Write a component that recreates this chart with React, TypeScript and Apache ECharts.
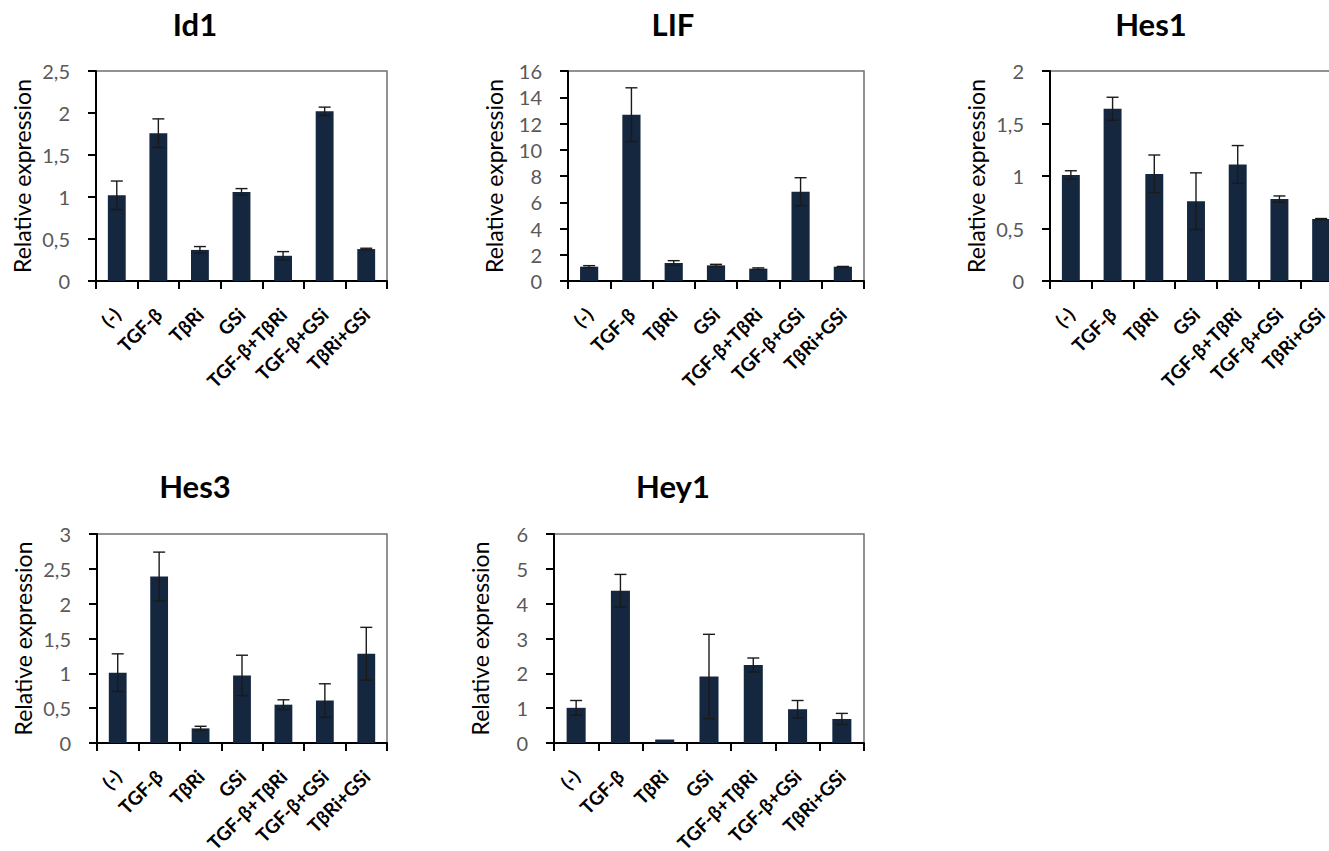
import React, { useEffect, useRef } from "react";
import * as echarts from "echarts";

const categories = ["(-)", "TGF-β", "TβRi", "GSi", "TGF-β+TβRi", "TGF-β+GSi", "TβRi+GSi"];

const panelTitles = ["Id1", "LIF", "Hes1", "Hes3", "Hey1"];

const id1Values = [1.02, 1.76, 0.37, 1.06, 0.30, 2.02, 0.38];
const id1Errors = [0.17, 0.17, 0.04, 0.04, 0.05, 0.05, 0.01];

const lifValues = [1.09, 12.67, 1.37, 1.19, 0.94, 6.8, 1.09];
const lifErrors = [0.08, 2.05, 0.18, 0.08, 0.06, 1.07, 0.02];

const hes1Values = [1.01, 1.64, 1.02, 0.76, 1.11, 0.78, 0.59];
const hes1Errors = [0.04, 0.11, 0.18, 0.27, 0.18, 0.03, 0.005];

const hes3Values = [1.01, 2.39, 0.21, 0.97, 0.55, 0.61, 1.28];
const hes3Errors = [0.27, 0.35, 0.03, 0.29, 0.07, 0.24, 0.38];

const hey1Values = [1.01, 4.37, 0.1, 1.91, 2.24, 0.97, 0.69];
const hey1Errors = [0.21, 0.47, 0, 1.21, 0.2, 0.25, 0.16];

const yMax = [2.5, 16, 2, 3, 6];
const yInterval = [0.5, 2, 0.5, 0.5, 1];

const FONT = "Lato, 'Open Sans', 'DejaVu Sans', sans-serif";
const BAR = "#15263f";

export default function App() {
  const ref = useRef<HTMLDivElement>(null);

  useEffect(() => {
    if (!ref.current) return;
    document.documentElement.style.overflow = "hidden";
    document.body.style.overflow = "hidden";
    const chart = echarts.init(ref.current, null, { renderer: "svg" });

    const values = [id1Values, lifValues, hes1Values, hes3Values, hey1Values];
    const errors = [id1Errors, lifErrors, hes1Errors, hes3Errors, hey1Errors];

    // layout of each panel: left, top, width, height (pixels)
    const grids = [
      { left: 96, top: 71, width: 291, height: 210 },
      { left: 568, top: 71, width: 296, height: 210 },
      { left: 1050, top: 71, width: 292, height: 210 },
      { left: 97, top: 534, width: 290, height: 209 },
      { left: 554, top: 534, width: 310, height: 209 },
    ];
    const titlePos = [
      { x: 195, y: 24 },
      { x: 673, y: 24 },
      { x: 1151, y: 24 },
      { x: 195, y: 486 },
      { x: 673, y: 486 },
    ];

    const option: any = {
      animation: false,
      backgroundColor: "#ffffff",
      textStyle: { fontFamily: FONT },
      graphic: panelTitles.map((t, i) => ({
        type: "text",
        x: titlePos[i].x,
        y: titlePos[i].y,
        style: {
          text: t,
          font: `bold 31px ${FONT}`,
          fill: "#000000",
          textAlign: "center",
          textVerticalAlign: "middle",
        },
      })),
      grid: grids.map((g) => ({
        ...g,
        show: true,
        borderColor: "#6f6f6f",
        borderWidth: 1.5,
        backgroundColor: "transparent",
        containLabel: false,
        outerBoundsMode: "none",
      })),
      xAxis: grids.map((_, i) => ({
        type: "category",
        gridIndex: i,
        data: categories,
        boundaryGap: true,
        axisLine: { show: true, lineStyle: { color: "#000000", width: 2 } },
        axisTick: {
          show: true,
          inside: false,
          length: 8,
          interval: 0,
          alignWithLabel: false,
          lineStyle: { color: "#000000", width: 2 },
        },
        axisLabel: {
          interval: 0,
          rotate: 45,
          margin: 30,
          color: "#000000",
          fontWeight: "bold",
          fontSize: 19,
          fontFamily: FONT,
          hideOverlap: false,
        },
        splitLine: { show: false },
      })),
      yAxis: grids.map((_, i) => ({
        type: "value",
        gridIndex: i,
        min: 0,
        max: yMax[i],
        interval: yInterval[i],
        name: "Relative expression",
        nameLocation: "middle",
        nameGap: 63,
        nameTextStyle: { color: "#000000", fontSize: 23, fontFamily: FONT },
        axisLine: { show: true, lineStyle: { color: "#000000", width: 2 } },
        axisTick: { show: true, inside: false, length: 8, lineStyle: { color: "#000000", width: 2 } },
        axisLabel: {
          margin: 26,
          color: "#595959",
          fontSize: 20,
          fontFamily: FONT,
          formatter: (v: number) => String(v).replace(".", ","),
        },
        splitLine: { show: false },
      })),
      series: [
        ...values.map((vals, i) => ({
          type: "bar",
          xAxisIndex: i,
          yAxisIndex: i,
          data: vals,
          barWidth: "43%",
          itemStyle: { color: BAR },
          z: 2,
        })),
        ...values.map((vals, i) => ({
          type: "custom",
          xAxisIndex: i,
          yAxisIndex: i,
          z: 5,
          data: vals.map((v, j) => [j, v, errors[i][j]]),
          renderItem: (params: any, api: any) => {
            const x = api.value(0);
            const v = api.value(1);
            const e = api.value(2);
            if (!e) return { type: "group", children: [] };
            const hi = api.coord([x, v + e]);
            const lo = api.coord([x, v - e]);
            const cap = 6;
            const style = { stroke: "#1a1a1a", lineWidth: 1.4 };
            return {
              type: "group",
              children: [
                { type: "line", shape: { x1: hi[0], y1: hi[1], x2: lo[0], y2: lo[1] }, style },
                { type: "line", shape: { x1: hi[0] - cap, y1: hi[1], x2: hi[0] + cap, y2: hi[1] }, style },
                { type: "line", shape: { x1: lo[0] - cap, y1: lo[1], x2: lo[0] + cap, y2: lo[1] }, style },
              ],
            };
          },
        })),
      ],
    };

    chart.setOption(option);
    return () => chart.dispose();
  }, []);

  return (
    <div
      ref={ref}
      style={{ position: "fixed", left: 0, top: 0, width: 1350, height: 851, background: "#fff" }}
    />
  );
}
